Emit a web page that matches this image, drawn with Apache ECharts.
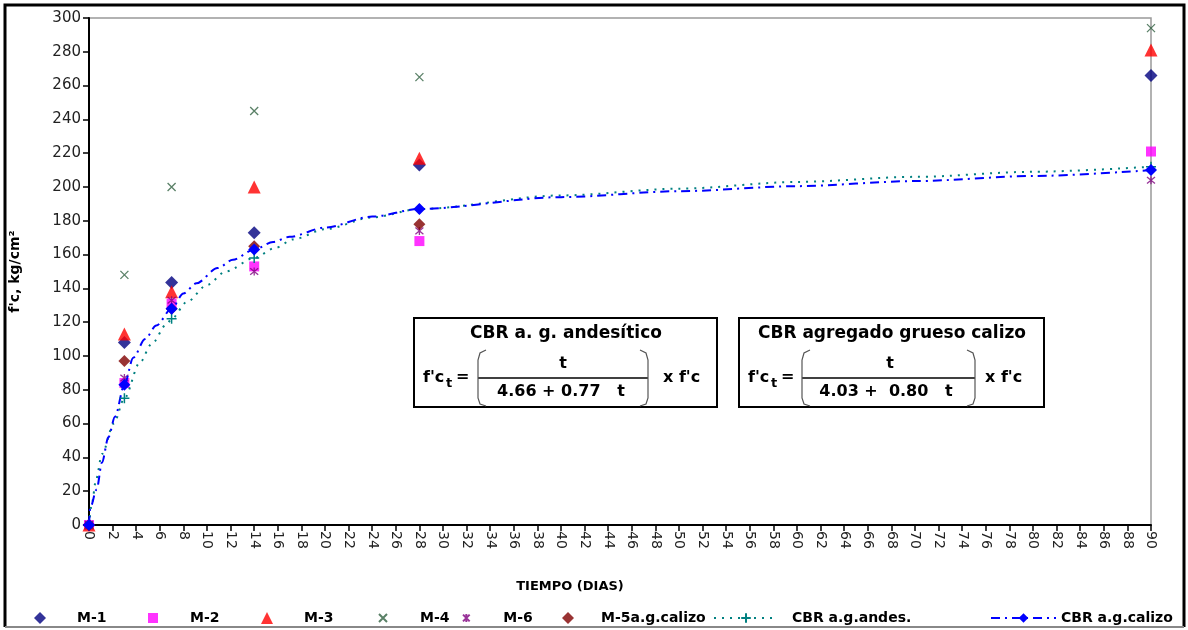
<!DOCTYPE html>
<html>
<head>
<meta charset="utf-8">
<script src="https://cdn.jsdelivr.net/npm/echarts@6/dist/echarts.min.js"></script>
<style>
  html, body { margin: 0; padding: 0; background: #fff; }
  #chart { width: 1188px; height: 630px; }
</style>
</head>
<body>
<div id="chart"></div>
<script>
// ages (days) at which the cylinders were tested
const ages = [0, 3, 7, 14, 28, 90]

// f'c readings, kg/cm2
const m1 = [0, 108, 143.5, 173, 213, 266]
const m2 = [0, 84, 131, 153, 168, 221]
const m3 = [0, 113, 138, 200, 217, 281]
const m4 = [0, 148, 200, 245, 265, 294]
const m6 = [0, 87, 133, 150, 174, 204]
const m5Caliz = [0, 97, 128, 165, 178]

// CBR curves, points (markers only at test ages)
const andesT = [0, 0.25, 0.6, 1.1, 2.1, 3, 4.3, 5.3, 6.6, 7, 8.3, 10, 11.6, 14, 15.8, 17.3, 20, 24, 28, 40, 50, 60, 70, 80, 90]
const andesV = [0, 13, 27, 42, 60, 75, 96, 107, 119, 122, 132, 142, 150, 158, 164, 169, 175, 182, 187, 195, 199, 203, 206, 209, 212]
const calizT = [0, 0.1, 0.65, 1.1, 1.65, 2.2, 3, 3.75, 4.75, 5.7, 7, 8, 9.1, 10.9, 12.2, 14, 15.6, 17, 20, 24, 28, 40, 50, 60, 70, 80, 90]
const calizV = [0, 10, 21, 37, 52, 64, 83, 99, 110, 118, 128, 137, 143, 152, 157, 163, 167.5, 170.5, 176, 182.5, 187, 194, 197.5, 200.5, 203.5, 206.5, 210]

const FONT = 'DejaVu Sans'

const chart = echarts.init(document.getElementById('chart'))

const pairs = vals => vals.map((v, i) => [ages[i], v])

// curve points: a marker only where the day is one of the test ages
const curve = (ts, vs) => ts.map((t, i) => ages.indexOf(t) >= 0
  ? { value: [t, vs[i]] }
  : { value: [t, vs[i]], symbol: 'none' })

function scatter(name, vals, symbol, size, color, extra) {
  return Object.assign({
    name: name,
    type: 'scatter',
    data: pairs(vals),
    symbol: symbol,
    symbolSize: size,
    itemStyle: { color: color },
    silent: true
  }, extra || {})
}

// formula box drawn with graphic elements
function formulaBox(o) {
  const font = 'bold 16px "' + FONT + '"'
  const els = [
    { type: 'rect', shape: { x: o.x, y: 318, width: o.w, height: 89 },
      style: { fill: '#fff', stroke: '#000', lineWidth: 2 } },
    { type: 'text', x: o.titleX, y: 334,
      style: { text: o.title, font: 'bold 17px "' + FONT + '"', fill: '#000', textAlign: 'center', textVerticalAlign: 'middle' } },
    { type: 'text', x: o.fcX, y: 378,
      style: { text: "f'c", font: font, fill: '#000', textAlign: 'left', textVerticalAlign: 'middle' } },
    { type: 'text', x: o.fcX + 23, y: 384,
      style: { text: 't', font: 'bold 13px "' + FONT + '"', fill: '#000', textAlign: 'left', textVerticalAlign: 'middle' } },
    { type: 'text', x: o.fcX + 33, y: 377,
      style: { text: '=', font: font, fill: '#000', textAlign: 'left', textVerticalAlign: 'middle' } },
    { type: 'text', x: o.numX, y: 364,
      style: { text: 't', font: font, fill: '#000', textAlign: 'center', textVerticalAlign: 'middle' } },
    { type: 'line', shape: { x1: o.lineX1, y1: 378, x2: o.lineX2, y2: 378 },
      style: { stroke: '#000', lineWidth: 1.5 } },
    { type: 'text', x: o.denX, y: 392,
      style: { text: o.den, font: font, fill: '#000', textAlign: 'center', textVerticalAlign: 'middle' } },
    { type: 'polyline', shape: { points: [[o.lineX1 + 8, 350], [o.lineX1 + 2, 353], [o.lineX1, 360], [o.lineX1, 398], [o.lineX1 + 2, 404], [o.lineX1 + 8, 406]] },
      style: { stroke: '#555', lineWidth: 1.2, fill: null } },
    { type: 'polyline', shape: { points: [[o.lineX2 - 8, 350], [o.lineX2 - 2, 353], [o.lineX2, 360], [o.lineX2, 398], [o.lineX2 - 2, 404], [o.lineX2 - 8, 406]] },
      style: { stroke: '#555', lineWidth: 1.2, fill: null } },
    { type: 'text', x: o.xfcX, y: 378,
      style: { text: "x f'c", font: font, fill: '#000', textAlign: 'left', textVerticalAlign: 'middle' } }
  ]
  return els
}

function legendAt(name, left, width, pad, height) {
  return {
    data: [name],
    left: left,
    top: 606,
    itemWidth: width,
    itemHeight: height || 12,
    selectedMode: false,
    textStyle: { fontFamily: FONT, fontWeight: 'bold', fontSize: 14, color: '#000', padding: [0, 0, 0, pad || 0] }
  }
}

const option = {
  backgroundColor: '#fff',
  animation: false,
  textStyle: { fontFamily: FONT },
  grid: {
    left: 89, right: 37, top: 18, bottom: 105,
    show: true, borderColor: '#999', borderWidth: 1.5, backgroundColor: 'transparent'
  },
  legend: [
    legendAt('M-1', 29, 12, 26),
    legendAt('M-2', 143, 10, 27, 10),
    legendAt('M-3', 256, 12, 26),
    legendAt('M-4', 373, 8, 28, 8),
    legendAt('M-6', 457, 8, 28, 8),
    legendAt('M-5a.g.calizo', 557, 12, 22),
    legendAt('CBR a.g.andes.', 708, 64, 9),
    legendAt('CBR a.g.calizo', 985, 65)
  ],
  xAxis: {
    type: 'value',
    min: 0, max: 90, interval: 2,
    name: 'TIEMPO (DIAS)',
    nameLocation: 'middle',
    nameGap: 55,
    nameTextStyle: { fontFamily: FONT, fontWeight: 'bold', fontSize: 13, color: '#000', padding: [0, 100, 0, 0] },
    axisLine: { lineStyle: { color: '#000', width: 2 } },
    axisTick: { lineStyle: { color: '#000', width: 1.5 }, length: 6 },
    axisLabel: { rotate: -90, fontSize: 14, color: '#222', margin: 6 },
    splitLine: { show: false }
  },
  yAxis: {
    type: 'value',
    min: 0, max: 300, interval: 20,
    name: "f'c, kg/cm²",
    nameLocation: 'middle',
    nameGap: 67,
    nameTextStyle: { fontFamily: FONT, fontWeight: 'bold', fontSize: 14, color: '#000' },
    axisLine: { show: true, lineStyle: { color: '#000', width: 2 } },
    axisTick: { show: true, lineStyle: { color: '#000', width: 1.5 }, length: 6 },
    axisLabel: { fontSize: 15, color: '#222', margin: 8 },
    splitLine: { show: false }
  },
  series: [
    scatter('M-1', m1, 'diamond', 13, '#000080'),
    scatter('M-2', m2, 'rect', 10, '#FF00FF'),
    scatter('M-3', m3, 'triangle', 13, '#FF0000'),
    scatter('M-4', m4, 'path://M0,0L10,10M10,0L0,10', 8, '#2F6040',
      { itemStyle: { color: '#2F6040', borderColor: '#2F6040', borderWidth: 1.3 } }),
    scatter('M-6', m6, 'path://M0,0L10,10M10,0L0,10M5,-1L5,11', 8, '#800080',
      { itemStyle: { color: '#800080', borderColor: '#800080', borderWidth: 1.3 } }),
    scatter('M-5a.g.calizo', m5Caliz, 'diamond', 12, '#800000'),
    {
      name: 'CBR a.g.andes.',
      type: 'line',
      data: curve(andesT, andesV),
      smooth: 0.3,
      smoothMonotone: 'x',
      symbol: 'path://M5,0L5,10M0,5L10,5',
      symbolSize: 10,
      showAllSymbol: true,
      itemStyle: { color: '#008080', borderColor: '#008080', borderWidth: 1.5 },
      lineStyle: { color: '#008080', width: 2, type: [2, 6] },
      silent: true
    },
    {
      name: 'CBR a.g.calizo',
      type: 'line',
      data: curve(calizT, calizV),
      smooth: 0.3,
      smoothMonotone: 'x',
      symbol: 'diamond',
      symbolSize: 12,
      showAllSymbol: true,
      itemStyle: { color: '#0000FF' },
      lineStyle: { color: '#0000FF', width: 2, type: [9, 5, 2, 5] },
      silent: true
    }
  ],
  graphic: [
    ...formulaBox({ x: 414, w: 303, titleX: 566, title: 'CBR a. g. andesítico', fcX: 423, numX: 563,
      lineX1: 478, lineX2: 648, denX: 561, den: '4.66 + 0.77   t', xfcX: 663 }),
    ...formulaBox({ x: 739, w: 305, titleX: 892, title: 'CBR agregado grueso calizo', fcX: 748, numX: 890,
      lineX1: 802, lineX2: 975, denX: 886, den: '4.03 +  0.80   t', xfcX: 985 }),
    { type: 'polyline', shape: { points: [[5, 627], [5, 5], [1184, 5], [1184, 627]] },
      style: { stroke: '#000', lineWidth: 3, fill: null } },
    { type: 'line', shape: { x1: 5, y1: 627, x2: 1184, y2: 627 },
      style: { stroke: '#888', lineWidth: 2 } }
  ]
}

chart.setOption(option)
</script>
</body>
</html>
